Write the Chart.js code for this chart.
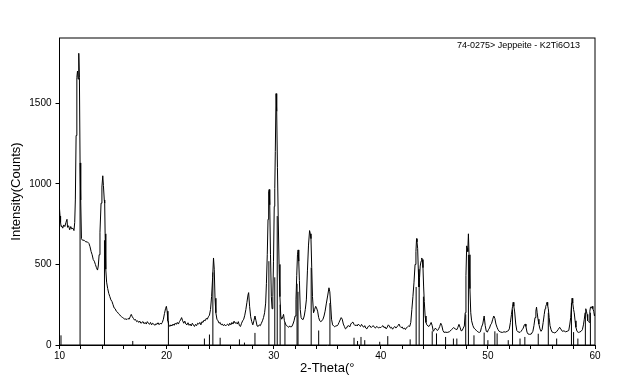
<!DOCTYPE html>
<html>
<head>
<meta charset="utf-8">
<script src="https://cdn.jsdelivr.net/npm/chart.js@4"></script>
<style>
html, body { margin: 0; padding: 0; background: #fff; }
#wrap { width: 624px; height: 384px; }
</style>
</head>
<body>
<div id="wrap"><canvas id="xrd" width="624" height="384"></canvas></div>
<script>
// Scan data: 2-theta (deg) and intensity (counts)
const twoTheta = [
    10.00, 10.05, 10.10, 10.15, 10.20, 10.30, 10.40, 10.50, 10.60, 10.70, 10.75, 10.85, 10.95, 11.05, 11.15, 11.25, 11.35, 11.42, 11.48, 11.55,
    11.62, 11.68, 11.74, 11.80, 11.86, 11.92, 11.98, 12.05, 12.15, 12.30, 12.45, 12.60, 12.75, 12.85, 12.95, 13.05, 13.15, 13.25, 13.35, 13.45,
    13.55, 13.62, 13.70, 13.78, 13.88, 13.96, 14.04, 14.10, 14.18, 14.22, 14.26, 14.32, 14.40, 14.50, 14.60, 14.70, 14.80, 14.90, 15.00, 15.10,
    15.20, 15.30, 15.40, 15.50, 15.60, 15.70, 15.80, 15.90, 16.00, 16.10, 16.20, 16.30, 16.40, 16.50, 16.60, 16.70, 16.80, 16.90, 17.00, 17.10,
    17.20, 17.30, 17.40, 17.50, 17.60, 17.70, 17.80, 17.90, 18.00, 18.10, 18.20, 18.30, 18.40, 18.50, 18.60, 18.70, 18.80, 18.90, 19.00, 19.10,
    19.20, 19.30, 19.40, 19.50, 19.60, 19.70, 19.80, 19.90, 19.98, 20.05, 20.12, 20.20, 20.30, 20.40, 20.50, 20.60, 20.70, 20.80, 20.90, 21.00,
    21.10, 21.20, 21.30, 21.40, 21.50, 21.60, 21.70, 21.80, 21.90, 22.00, 22.10, 22.20, 22.30, 22.40, 22.50, 22.60, 22.70, 22.80, 22.90, 23.00,
    23.10, 23.20, 23.30, 23.40, 23.50, 23.60, 23.70, 23.80, 23.90, 24.00, 24.10, 24.20, 24.30, 24.38, 24.45, 24.52, 24.60, 24.70, 24.80, 24.90,
    25.00, 25.10, 25.20, 25.30, 25.40, 25.50, 25.60, 25.70, 25.80, 25.90, 26.00, 26.10, 26.20, 26.30, 26.40, 26.50, 26.60, 26.70, 26.80, 26.90,
    27.00, 27.10, 27.20, 27.30, 27.40, 27.50, 27.60, 27.66, 27.75, 27.85, 27.95, 28.05, 28.15, 28.25, 28.35, 28.45, 28.55, 28.65, 28.75, 28.85,
    28.95, 29.05, 29.15, 29.25, 29.32, 29.40, 29.47, 29.53, 29.58, 29.63, 29.70, 29.78, 29.85, 29.92, 29.98, 30.05, 30.10, 30.15, 30.22, 30.28,
    30.35, 30.42, 30.50, 30.58, 30.66, 30.75, 30.85, 30.92, 31.00, 31.10, 31.20, 31.30, 31.40, 31.50, 31.60, 31.70, 31.80, 31.90, 32.00, 32.08,
    32.15, 32.22, 32.28, 32.34, 32.40, 32.48, 32.56, 32.65, 32.75, 32.85, 32.95, 33.05, 33.15, 33.25, 33.35, 33.42, 33.48, 33.55, 33.62, 33.72,
    33.82, 33.92, 34.00, 34.10, 34.20, 34.30, 34.40, 34.50, 34.60, 34.70, 34.80, 34.92, 35.05, 35.16, 35.24, 35.32, 35.40, 35.50, 35.60, 35.70,
    35.80, 35.90, 36.00, 36.10, 36.20, 36.30, 36.40, 36.50, 36.60, 36.70, 36.80, 36.90, 37.00, 37.10, 37.20, 37.30, 37.40, 37.50, 37.60, 37.70,
    37.80, 37.90, 38.00, 38.10, 38.20, 38.30, 38.40, 38.50, 38.60, 38.70, 38.80, 38.90, 39.00, 39.10, 39.20, 39.30, 39.40, 39.50, 39.60, 39.70,
    39.80, 39.90, 40.00, 40.10, 40.20, 40.30, 40.40, 40.50, 40.60, 40.70, 40.80, 40.90, 41.00, 41.10, 41.20, 41.30, 41.40, 41.50, 41.60, 41.70,
    41.80, 41.90, 42.00, 42.10, 42.20, 42.30, 42.40, 42.50, 42.60, 42.70, 42.80, 42.90, 43.00, 43.10, 43.20, 43.28, 43.34, 43.38, 43.44, 43.50,
    43.56, 43.62, 43.68, 43.76, 43.82, 43.88, 43.94, 44.00, 44.06, 44.14, 44.22, 44.30, 44.40, 44.50, 44.60, 44.70, 44.80, 44.90, 45.00, 45.10,
    45.20, 45.30, 45.40, 45.50, 45.60, 45.70, 45.80, 45.90, 46.00, 46.20, 46.40, 46.60, 46.80, 46.95, 47.10, 47.20, 47.30, 47.40, 47.50, 47.60,
    47.70, 47.80, 47.88, 47.95, 48.02, 48.08, 48.12, 48.18, 48.24, 48.32, 48.40, 48.48, 48.60, 48.70, 48.80, 48.90, 49.00, 49.10, 49.20, 49.30,
    49.40, 49.52, 49.65, 49.75, 49.85, 49.95, 50.05, 50.15, 50.25, 50.35, 50.45, 50.55, 50.65, 50.75, 50.85, 50.95, 51.05, 51.20, 51.35, 51.50,
    51.65, 51.80, 51.90, 52.00, 52.10, 52.20, 52.30, 52.36, 52.42, 52.50, 52.60, 52.70, 52.80, 52.90, 53.00, 53.10, 53.20, 53.30, 53.40, 53.48,
    53.55, 53.65, 53.75, 53.90, 54.05, 54.20, 54.30, 54.40, 54.48, 54.54, 54.60, 54.68, 54.76, 54.86, 54.96, 55.06, 55.16, 55.26, 55.34, 55.40,
    55.46, 55.52, 55.58, 55.64, 55.72, 55.80, 55.90, 56.00, 56.10, 56.25, 56.40, 56.55, 56.70, 56.80, 56.95, 57.10, 57.25, 57.40, 57.55, 57.65,
    57.73, 57.80, 57.86, 57.92, 58.00, 58.06, 58.14, 58.22, 58.32, 58.44, 58.56, 58.70, 58.82, 58.92, 59.00, 59.08, 59.14, 59.20, 59.26, 59.32,
    59.40, 59.46, 59.52, 59.58, 59.66, 59.74, 59.80, 59.88, 59.95, 60.00
];
const counts = [
    845, 800, 760, 735, 740, 725, 745, 735, 760, 780, 730, 740, 715, 735, 720, 725, 710, 760, 900, 1300,
    1660, 1700, 1650, 1810, 1660, 1130, 900, 660, 650, 650, 640, 640, 630, 610, 580, 560, 530, 520, 500, 480,
    465, 490, 560, 700, 880, 980, 1050, 990, 900, 880, 690, 470, 390, 350, 320, 300, 280, 270, 250, 230,
    225, 210, 205, 195, 190, 180, 175, 170, 165, 160, 162, 158, 165, 160, 175, 190, 175, 165, 155, 158,
    145, 150, 140, 148, 135, 140, 145, 132, 140, 130, 145, 135, 128, 140, 125, 135, 130, 122, 132, 128,
    138, 126, 135, 130, 140, 160, 195, 225, 240, 210, 150, 125, 115, 125, 118, 130, 122, 135, 128, 140,
    130, 145, 155, 170, 150, 135, 148, 130, 125, 138, 122, 130, 118, 135, 125, 115, 128, 120, 135, 130,
    140, 125, 145, 140, 155, 150, 165, 160, 175, 185, 220, 300, 420, 540, 470, 290, 200, 160, 150, 135,
    140, 125, 130, 120, 128, 118, 125, 130, 120, 135, 125, 140, 130, 148, 135, 140, 130, 145, 120, 115,
    135, 150, 160, 185, 220, 265, 310, 325, 240, 175, 145, 125, 150, 180, 150, 118, 115, 125, 120, 135,
    150, 170, 200, 260, 380, 560, 780, 950, 965, 870, 560, 300, 225, 300, 520, 860, 970, 1200, 1560, 1450,
    1100, 800, 500, 300, 180, 160, 175, 190, 150, 130, 120, 115, 110, 118, 112, 115, 130, 150, 180, 280,
    430, 560, 590, 520, 400, 220, 170, 160, 158, 180, 220, 280, 460, 620, 710, 690, 660, 480, 300, 200,
    220, 240, 230, 210, 170, 150, 145, 150, 160, 180, 210, 260, 310, 355, 330, 250, 160, 125, 118, 112,
    120, 118, 125, 140, 155, 170, 160, 130, 115, 100, 105, 118, 120, 112, 130, 138, 142, 128, 120, 125,
    118, 130, 122, 115, 128, 118, 110, 120, 105, 100, 112, 120, 118, 108, 115, 120, 110, 105, 115, 112,
    105, 110, 108, 115, 120, 108, 112, 100, 110, 125, 118, 105, 110, 98, 108, 115, 105, 112, 120, 130,
    115, 108, 112, 100, 105, 96, 108, 112, 118, 115, 140, 220, 300, 390, 500, 580, 660, 640, 600, 470,
    360, 420, 490, 520, 540, 530, 480, 360, 270, 180, 140, 125, 118, 115, 125, 140, 120, 85, 95, 105,
    95, 90, 100, 115, 135, 120, 90, 78, 80, 78, 82, 95, 108, 100, 95, 110, 128, 110, 88, 90,
    105, 118, 200, 430, 615, 600, 580, 690, 560, 350, 200, 150, 120, 105, 98, 92, 85, 80, 78, 82,
    110, 130, 180, 120, 85, 80, 95, 105, 125, 135, 160, 180, 165, 130, 110, 95, 85, 80, 78, 82,
    80, 85, 88, 100, 140, 190, 240, 265, 240, 205, 130, 90, 82, 80, 78, 85, 95, 105, 125, 130,
    115, 80, 68, 66, 68, 85, 120, 170, 210, 235, 200, 160, 130, 100, 85, 95, 140, 190, 225, 240,
    250, 265, 245, 225, 170, 120, 95, 80, 78, 75, 82, 95, 110, 100, 85, 88, 82, 85, 90, 130,
    170, 240, 290, 260, 220, 200, 150, 110, 85, 78, 80, 85, 95, 125, 160, 200, 225, 210, 190, 150,
    145, 140, 210, 235, 230, 240, 225, 210, 180, 195
];

// Reference pattern 74-0275 (stick positions and heights in counts)
const stickPos = [
    10.14, 11.92, 14.20, 16.84, 20.17, 23.53, 24.00, 24.32, 25.00, 26.80, 27.27, 28.25, 29.55, 30.10, 30.33, 30.60, 31.05, 32.18, 32.27, 33.50,
    34.20, 35.25, 37.50, 37.83, 38.15, 38.50, 39.90, 40.65, 42.74, 43.30, 43.58, 43.98, 44.80, 45.20, 46.05, 46.78, 47.10, 47.93, 48.18, 48.70,
    49.65, 50.00, 50.65, 50.86, 51.90, 52.30, 53.00, 53.45, 54.70, 55.64, 56.42, 57.80, 58.00, 58.40, 59.10, 59.57
];
const stickHeight = [
    60, 1130, 650, 25, 150, 40, 65, 450, 45, 35, 15, 75, 520, 420, 800, 250, 140, 380, 330, 480,
    90, 260, 45, 25, 50, 30, 20, 55, 35, 360, 380, 300, 85, 72, 50, 40, 40, 190, 560, 60,
    77, 30, 85, 72, 30, 220, 40, 50, 70, 200, 40, 260, 80, 40, 200, 200
];

const xTickValues = [10, 12, 14, 16, 18, 20, 22, 24, 26, 28, 30, 32, 34, 36, 38, 40, 42, 44, 46, 48, 50, 52, 54, 56, 58, 60];
const xTickLabels = [10, 20, 30, 40, 50, 60];
const yTickValues = [0, 500, 1000, 1500];
const cardLabel = '74-0275> Jeppeite - K2Ti6O13';

const FONT = 'Liberation Sans, Arial, Helvetica, sans-serif';

// scan as x/y points
const scanPoints = twoTheta.map((t, i) => ({ x: t, y: counts[i] }));

// sticks: bottom -> top, then a gap
const stickPoints = [];
stickPos.forEach((p, i) => {
    stickPoints.push({ x: p, y: 0 }, { x: p, y: stickHeight[i] }, { x: p, y: null });
});

// frame on all four sides + card label in the top right corner
const framePlugin = {
    id: 'frame',
    afterDraw(chart) {
        const { ctx, chartArea: a } = chart;
        ctx.save();
        ctx.strokeStyle = '#000';
        ctx.lineWidth = 1;
        ctx.strokeRect(a.left, a.top, a.right - a.left, a.bottom - a.top);
        ctx.fillStyle = '#000';
        ctx.font = '9px ' + FONT;
        ctx.textAlign = 'right';
        ctx.textBaseline = 'middle';
        ctx.fillText(cardLabel, 580, 46);
        ctx.restore();
    }
};

new Chart(document.getElementById('xrd').getContext('2d'), {
    type: 'line',
    data: {
        datasets: [
            {
                label: 'scan',
                data: scanPoints,
                borderColor: '#000',
                borderWidth: 1,
                pointRadius: 0,
                tension: 0,
                fill: false
            },
            {
                label: 'sticks',
                data: stickPoints,
                borderColor: '#000',
                borderWidth: 1,
                pointRadius: 0,
                spanGaps: false,
                fill: false
            }
        ]
    },
    options: {
        responsive: false,
        animation: false,
        layout: { padding: { top: 38, right: 29, left: 0, bottom: 0 } },
        plugins: {
            legend: { display: false },
            tooltip: { enabled: false }
        },
        scales: {
            x: {
                type: 'linear',
                min: 10,
                max: 60,
                afterBuildTicks: s => { s.ticks = xTickValues.map(v => ({ value: v })); },
                afterFit: s => { s.height = 39; },
                ticks: {
                    color: '#000',
                    font: { family: FONT, size: 10 },
                    padding: 1,
                    maxRotation: 0,
                    autoSkip: false,
                    callback: v => xTickLabels.includes(v) ? String(v) : ''
                },
                grid: { display: true, drawOnChartArea: false, color: '#000', tickLength: 4 },
                border: { display: true, color: '#000' },
                title: {
                    display: true,
                    text: '2-Theta(°',
                    color: '#000',
                    font: { family: FONT, size: 13 },
                    padding: { top: 0, bottom: 8 }
                }
            },
            y: {
                type: 'linear',
                min: 0,
                max: 1905,
                afterBuildTicks: s => { s.ticks = yTickValues.map(v => ({ value: v })); },
                afterFit: s => { s.width = 59.5; },
                ticks: {
                    color: '#000',
                    font: { family: FONT, size: 10 },
                    padding: 4,
                    callback: v => String(v)
                },
                grid: { display: true, drawOnChartArea: false, color: '#000', tickLength: 4 },
                border: { display: true, color: '#000' },
                title: {
                    display: true,
                    text: 'Intensity(Counts)',
                    color: '#000',
                    font: { family: FONT, size: 13 },
                    padding: { top: 9, bottom: 0 }
                }
            }
        }
    },
    plugins: [framePlugin]
});
</script>
</body>
</html>
